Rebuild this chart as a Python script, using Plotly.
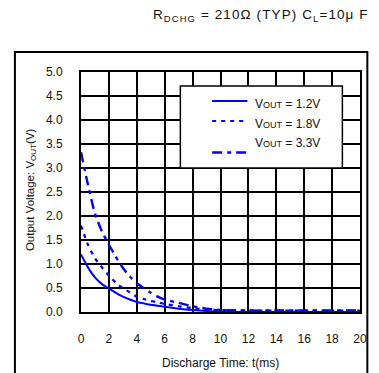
import plotly.graph_objects as go

# ---- data ----
t_ms = [0, 0.5, 1, 1.5, 2, 2.5, 3, 3.5, 4, 4.5, 5, 5.5, 6, 7, 8, 9, 10, 12, 14, 16, 18, 20]
v_1v2 = [1.20, 0.93, 0.72, 0.58, 0.49, 0.40, 0.32, 0.26, 0.21, 0.18, 0.15, 0.13, 0.11, 0.07, 0.04, 0.02, 0.0, 0.0, 0.0, 0.0, 0.0, 0.0]
v_1v8 = [1.80, 1.40, 1.12, 0.93, 0.76, 0.61, 0.50, 0.41, 0.32, 0.27, 0.23, 0.20, 0.17, 0.12, 0.08, 0.05, 0.04, 0.03, 0.03, 0.03, 0.03, 0.03]
v_3v3 = [3.33, 2.65, 2.05, 1.68, 1.40, 1.15, 0.92, 0.74, 0.60, 0.50, 0.40, 0.32, 0.26, 0.19, 0.12, 0.07, 0.04, 0.03, 0.03, 0.03, 0.03, 0.03]
series_names = ["V<span style='font-size:9px'>OUT</span> = 1.2V",
                "V<span style='font-size:9px'>OUT</span> = 1.8V",
                "V<span style='font-size:9px'>OUT</span> = 3.3V"]
x_ticks = [0, 2, 4, 6, 8, 10, 12, 14, 16, 18, 20]
y_ticks = [0.0, 0.5, 1.0, 1.5, 2.0, 2.5, 3.0, 3.5, 4.0, 4.5, 5.0]

# ---- layout geometry ----
W, H = 379, 373
L, R, T, B = 81, 13, 72, 61
PW, PH = W - L - R, H - T - B
FONT = "Liberation Sans, Arial, sans-serif"
BLUE = "#0000ff"
TXT = "#111111"

def px(xp):
    return (xp - L) / PW

def py(yp):
    return (T + PH - yp) / PH

dashes = ["solid", "4px,5px", "10px,5px,4px,5px"]
widths = [2, 2.2, 2.4]

fig = go.Figure()
for vals, name, d, w in zip([v_1v2, v_1v8, v_3v3], series_names, dashes, widths):
    fig.add_trace(go.Scatter(x=t_ms, y=vals, mode="lines", name=name,
                             line=dict(color=BLUE, width=w, dash=d, shape="spline", smoothing=0.6),
                             showlegend=False))

axis_common = dict(showgrid=True, gridcolor="#000000", gridwidth=2,
                   showline=True, linecolor="#000000", linewidth=2, mirror=True,
                   zeroline=False, ticks="", tickfont=dict(family=FONT, size=12, color=TXT))

fig.update_xaxes(range=[0, 20], tickvals=x_ticks, ticktext=[str(v) for v in x_ticks],
                 ticklabelstandoff=15, **axis_common)
fig.update_yaxes(range=[0, 5], tickvals=y_ticks, ticktext=[f"{v:.1f}" for v in y_ticks],
                 ticklabelstandoff=14, **axis_common)

shapes = []
# outer frame
shapes.append(dict(type="rect", xref="paper", yref="paper",
                   x0=px(13.5), x1=px(373.5), y0=py(380), y1=py(52),
                   line=dict(color="#000000", width=2), fillcolor="rgba(0,0,0,0)", layer="above"))
# legend box
shapes.append(dict(type="rect", xref="paper", yref="paper",
                   x0=px(182.5), x1=px(348), y0=py(168), y1=py(86),
                   line=dict(color="#000000", width=1.5), fillcolor="#ffffff", layer="above"))
legend_line_y = [101, 121, 152.5]
legend_text_y = [104, 124, 143]
for ly, d, w in zip(legend_line_y, dashes, widths):
    shapes.append(dict(type="line", xref="paper", yref="paper",
                       x0=px(215), x1=px(251), y0=py(ly), y1=py(ly),
                       line=dict(color=BLUE, width=w, dash=d), layer="above"))

annotations = []
for ty, name in zip(legend_text_y, series_names):
    annotations.append(dict(xref="paper", yref="paper", x=px(257), y=py(ty),
                            xanchor="left", yanchor="middle", showarrow=False,
                            text=name, font=dict(family=FONT, size=12, color=TXT)))
annotations.append(dict(xref="paper", yref="paper", x=px(377), y=py(16),
                        xanchor="right", yanchor="middle", showarrow=False,
                        text="<span style='letter-spacing:1.1px'>R<sub>DCHG</sub> = 210Ω (TYP) C<sub>L</sub>=10μ F</span>",
                        font=dict(family=FONT, size=13.5, color=TXT)))
annotations.append(dict(xref="paper", yref="paper", x=px(223), y=py(363),
                        xanchor="center", yanchor="middle", showarrow=False,
                        text="Discharge Time: t(ms)",
                        font=dict(family=FONT, size=12, color=TXT)))
annotations.append(dict(xref="paper", yref="paper", x=px(30), y=py(190),
                        xanchor="center", yanchor="middle", showarrow=False, textangle=-90,
                        text="Output Voltage: V<sub>OUT</sub>(V)",
                        font=dict(family=FONT, size=11.5, color=TXT)))

fig.update_layout(width=W, height=H, margin=dict(l=L, r=R, t=T, b=B, pad=0),
                  paper_bgcolor="#ffffff", plot_bgcolor="#ffffff",
                  shapes=shapes, annotations=annotations, showlegend=False)

fig.write_html("out.html")
